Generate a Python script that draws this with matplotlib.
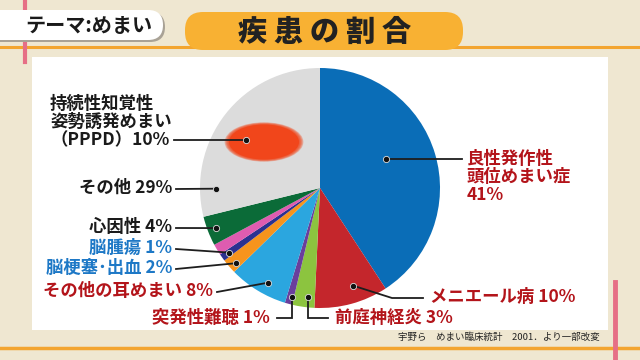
import numpy as np
import matplotlib.pyplot as plt
from matplotlib.patches import Rectangle, FancyBboxPatch, Ellipse

plt.rcParams['font.family'] = ['Noto Sans CJK JP', 'DejaVu Sans']

# slices, clockwise from 12 o'clock
categories = ['良性発作性\n頭位めまい症', 'メニエール病', '前庭神経炎', '突発性難聴',
              'その他の耳めまい', '脳梗塞･出血', '脳腫瘍', '', '心因性', 'その他']
shares = [41, 10, 3, 1, 8, 2, 1, 1.5, 4, 29]
slice_colors = ['#0a6db7', '#c4262c', '#8cc43f', '#6a3f9c', '#2ba6df',
                '#f7941d', '#2b3190', '#de5cb0', '#0b6b38', '#dcdcdc']
label_colors = ['#b3141a', '#b3141a', '#b3141a', '#b3141a', '#b3141a',
                '#1d78c6', '#1d78c6', None, '#1a1a1a', '#1a1a1a']
pppd_label = '持続性知覚性\n姿勢誘発めまい\n（PPPD）10%'
source = '宇野ら　めまい臨床統計　2001．より一部改変'
title = '疾患の割合'
theme = 'テーマ:めまい'

# layout (pixel coords, y down)
cx, cy, R = 320, 188, 120
# dot position inside wedge: (fraction along wedge, fraction of radius)
dot_pos = [(0.45, 0.60), (0.40, 0.86), (0.34, 0.91), (0.3, 0.94), (0.41, 0.90),
           (0.35, 0.94), (0.5, 0.93), None, (0.5, 0.93), (0.13, 0.87)]
# text anchor, alignment
text_pos = [(467, 177, 'left'), (430, 297, 'left'), (335, 318, 'left'),
            (270, 318, 'right'), (213, 291, 'right'), (172, 268, 'right'),
            (172, 248, 'right'), None, (172, 227, 'right'), (172, 188, 'right')]

fig = plt.figure(figsize=(6.4, 3.6), dpi=100, facecolor='#efe7d1')
ax = fig.add_axes([0, 0, 1, 1])

# frame decorations
ax.add_patch(Rectangle((32, 57), 576, 273, facecolor='white', edgecolor='none', zorder=1))
ax.plot([0, 640], [47, 47], color='#f3a530', lw=2.2, zorder=0.5)
ax.plot([0, 640], [348, 348], color='#f3a530', lw=2.5, zorder=0.5)
ax.plot([25, 25], [0, 62], color='#e66f86', lw=3, zorder=0.6)
ax.plot([615, 615], [282, 360], color='#e66f86', lw=3.5, zorder=2)

ax.add_patch(FancyBboxPatch((-30, 12), 195, 30, boxstyle='round,pad=0,rounding_size=15',
                            facecolor='#a9a296', edgecolor='none', zorder=2))
ax.add_patch(FancyBboxPatch((-30, 10), 193, 30, boxstyle='round,pad=0,rounding_size=15',
                            facecolor='white', edgecolor='none', zorder=3))
ax.text(89, 26, theme, ha='center', va='center', fontsize=14.5, fontweight='bold',
        color='#1a1a1a', zorder=4)

ax.add_patch(FancyBboxPatch((185, 12), 278, 38, boxstyle='round,pad=0,rounding_size=18',
                            facecolor='#f8b133', edgecolor='none', zorder=3))
for i, ch in enumerate(title):
    ax.text(252 + 36 * i, 32, ch, ha='center', va='center', fontsize=21,
            fontweight='heavy', color='#222222', zorder=4)

# pie
wedges, _ = ax.pie(shares, colors=slice_colors, startangle=-90, counterclock=True,
                   center=(cx, cy), radius=R, frame=True,
                   wedgeprops=dict(linewidth=0, zorder=2))
ax.set_xlim(0, 640)
ax.set_ylim(360, 0)
ax.axis('off')

# PPPD highlight (soft-edged ellipse)
for k in range(6):
    grow = 1 + 0.025 * (5 - k)
    ax.add_patch(Ellipse((264, 142), 70 * grow, 35 * grow, facecolor='#f1461b',
                         edgecolor='none', alpha=0.3 if k < 5 else 1, zorder=3))
ax.plot([174, 246], [140, 140], color='#1e1e1e', lw=1.3, zorder=4)
ax.plot(246, 140, 'o', ms=4.5, color='#111111', mec='#dddddd', mew=0.6, zorder=5)
ax.text(50, 122, pppd_label, ha='left', va='center', fontsize=12.5, fontweight='bold',
        color='#1a1a1a', linespacing=1.0, zorder=4)

for w, cat, val, dp, tp, col in zip(wedges, categories, shares, dot_pos, text_pos, label_colors):
    if dp is None:
        continue
    th = np.deg2rad(w.theta1 + dp[0] * (w.theta2 - w.theta1))
    dx = cx + dp[1] * R * np.cos(th)
    dy = cy + dp[1] * R * np.sin(th)
    tx, ty, ha = tp
    sep = '\n' if '\n' in cat else ' '
    label = f'{cat}{sep}{val:g}%'
    if cat == '良性発作性\n頭位めまい症':
        path = [(dx, dy), (tx - 5, dy)]
    elif cat == 'メニエール病':
        path = [(dx, dy), (392, 298), (tx - 7, 298)]
    elif cat == '前庭神経炎':
        path = [(dx, dy), (dx, ty), (tx - 7, ty)]
    elif cat == '突発性難聴':
        path = [(dx, dy), (dx, ty), (tx + 7, ty)]
    else:
        path = [(dx, dy), (tx + 4, ty + 1)]
    px, py = zip(*path)
    ax.plot(px, py, color='#1e1e1e', lw=1.3, zorder=4, solid_joinstyle='miter')
    ax.plot(dx, dy, 'o', ms=4.5, color='#111111', mec='#dddddd', mew=0.6, zorder=5)
    ax.text(tx, ty, label, ha=ha, va='center', fontsize=12.5, fontweight='bold',
            color=col, linespacing=1.0, zorder=4)

ax.text(600, 337, source, ha='right', va='center', fontsize=6.8, color='#222222', zorder=4)

fig.savefig('out.png', dpi=100, facecolor=fig.get_facecolor())
